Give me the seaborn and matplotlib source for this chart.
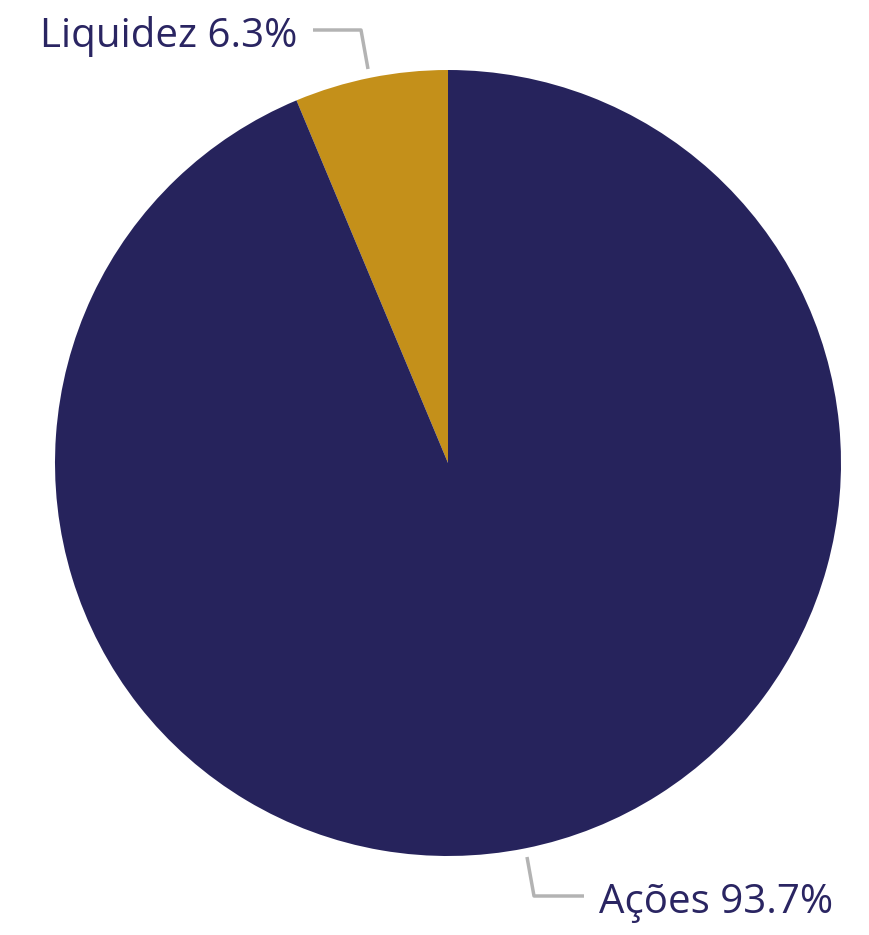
import seaborn as sns
import matplotlib.pyplot as plt

labels = ['Liquidez', 'Ações']
shares = [6.3, 93.7]
colors = ['#C4901A', '#26235C']

sns.set_theme(style='white')
plt.rcParams['font.family'] = ['Open Sans', 'DejaVu Sans']

W, H = 870, 935
cx, cy, r = 448, 463, 393

fig = plt.figure(figsize=(W / 100, H / 100), dpi=100)
ax = fig.add_axes([(cx - r) / W, (H - cy - r) / H, 2 * r / W, 2 * r / H])

ax.pie(shares, colors=colors, startangle=90, counterclock=True,
       radius=1, wedgeprops=dict(linewidth=0))
ax.set_xlim(-1, 1)
ax.set_ylim(-1, 1)
ax.set_aspect('equal')
ax.axis('off')


def px(x, y):
    return (x - cx) / r, (cy - y) / r


text_color = '#2A2562'
line_color = '#B3B3B3'

# leader lines
for pts in ([(368, 69), (361, 30), (313, 30)], [(527, 857), (534, 896), (584, 896)]):
    xs, ys = zip(*[px(*p) for p in pts])
    ax.plot(xs, ys, color=line_color, lw=2.5, clip_on=False, solid_capstyle='butt')

tx, ty = px(297, 47)
ax.text(tx, ty, f'{labels[0]} {shares[0]}%', ha='right', va='baseline',
        fontsize=29, color=text_color, clip_on=False)
tx, ty = px(599, 913)
ax.text(tx, ty, f'{labels[1]} {shares[1]}%', ha='left', va='baseline',
        fontsize=29, color=text_color, clip_on=False)

plt.savefig('out.png', dpi=100)
